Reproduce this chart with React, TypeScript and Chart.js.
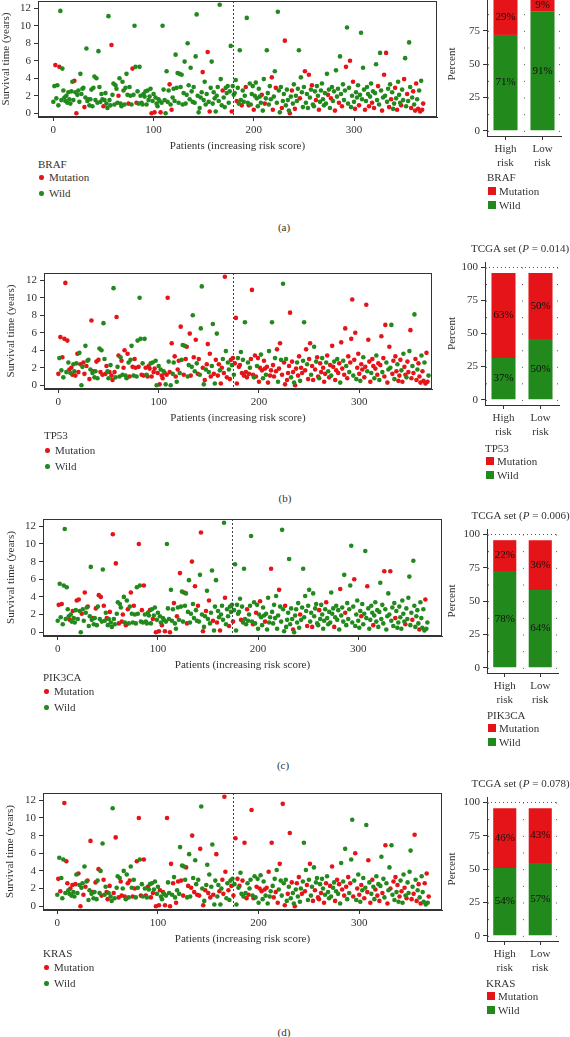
import React, { useEffect, useRef } from 'react';
import { Chart, registerables } from 'chart.js';
Chart.register(...registerables);

// ---------------- data ----------------
const GENES = ['BRAF', 'TP53', 'PIK3CA', 'KRAS'];
const PANEL_TAGS = ['(a)', '(b)', '(c)', '(d)'];
const P_VALUES: (string | null)[] = [null, '0.014', '0.006', '0.078'];
const RISK_GROUPS = [['High', 'risk'], ['Low', 'risk']];
const STATUS_LABELS = ['Mutation', 'Wild'];
const CUTOFF = [179, 174, 174, 175];
const SURV_TICKS = [0, 2, 4, 6, 8, 10, 12];
const PATIENT_TICKS = [0, 100, 200, 300];
const PERCENT_TICKS = [0, 25, 50, 75, 100];

// survival time (years) per patient, ordered by increasing risk score
const SURVIVAL = [
  1.3, 3.1, 5.5, 1.7, 3.2, 0.9, 5.3, 11.7, 1.5, 5.1,
  2.6, 1.8, 1.4, 2.0, 1.2, 2.4, 1.6, 1.1, 2.5, 3.6,
  1.5, 3.7, 2.4, 0.0, 2.1, 2.6, 1.3, 4.5, 2.2, 2.8,
  2.9, 0.7, 1.8, 7.4, 1.4, 1.6, 0.9, 1.6, 2.7, 0.8,
  2.9, 4.2, 1.5, 4.0, 1.2, 7.1, 3.0, 1.3, 2.2, 1.6,
  0.8, 1.5, 2.3, 1.1, 0.6, 11.1, 1.5, 0.9, 7.8, 2.1,
  3.4, 1.0, 3.2, 2.8, 1.2, 2.0, 4.0, 1.1, 0.8, 3.6,
  2.6, 1.0, 2.9, 4.5, 2.1, 1.1, 3.0, 2.0, 1.0, 5.1,
  2.1, 10.0, 5.3, 1.2, 2.5, 1.1, 5.3, 2.0, 1.2, 1.0,
  2.2, 1.9, 2.5, 1.0, 2.6, 1.5, 1.9, 2.8, 0.0, 1.4,
  2.2, 0.1, 1.8, 1.1, 0.8, 1.6, 1.4, 0.1, 1.2, 10.0,
  2.7, 1.5, 0.0, 4.8, 1.3, 2.6, 3.3, 1.0, 0.4, 1.8,
  2.8, 1.4, 6.7, 2.9, 4.6, 1.2, 4.5, 3.0, 4.4, 1.0,
  2.3, 5.9, 1.1, 2.1, 8.0, 3.2, 1.6, 5.2, 2.5, 1.3,
  3.0, 1.2, 6.5, 11.3, 2.0, 0.1, 0.6, 1.8, 2.4, 4.7,
  1.5, 3.6, 1.0, 2.2, 7.0, 1.3, 0.2, 2.9, 5.9, 1.1,
  2.4, 1.7, 0.2, 2.0, 3.0, 1.4, 12.4, 3.9, 0.9, 2.6,
  1.8, 0.7, 2.9, 2.3, 3.1, 1.2, 2.5, 7.7, 0.2, 3.1,
  2.1, 2.3, 3.8, 1.4, 2.9, 1.1, 7.2, 1.5, 0.9, 2.6,
  1.3, 2.0, 3.0, 10.9, 1.2, 0.9, 3.4, 1.0, 2.2, 3.1,
  0.4, 2.0, 3.5, 1.7, 0.8, 2.8, 1.9, 1.2, 2.1, 0.3,
  3.9, 1.1, 1.7, 7.2, 2.3, 1.0, 3.1, 1.6, 4.1, 0.4,
  1.9, 4.8, 2.9, 1.2, 11.6, 2.6, 0.1, 3.0, 0.6, 1.4,
  2.2, 8.3, 0.9, 2.7, 1.5, 0.3, 0.0, 1.9, 2.6, 1.1,
  3.3, 0.5, 2.0, 1.4, 2.8, 7.2, 1.7, 4.1, 2.4, 0.7,
  3.0, 4.8, 1.2, 2.2, 0.6, 4.4, 1.8, 2.7, 3.2, 1.0,
  0.8, 2.5, 1.5, 3.1, 2.0, 0.4, 1.3, 2.6, 3.4, 1.6,
  0.9, 2.3, 1.1, 4.5, 2.1, 2.7, 0.6, 1.7, 3.0, 1.4,
  2.5, 0.3, 4.9, 1.9, 2.8, 1.2, 6.5, 2.2, 0.8, 3.3,
  1.5, 2.6, 5.3, 9.8, 1.1, 2.9, 6.0, 0.7, 2.0, 3.6,
  1.3, 0.5, 2.4, 1.8, 3.2, 0.9, 2.1, 9.2, 1.6, 5.2,
  2.7, 0.4, 1.4, 3.0, 2.2, 0.8, 1.9, 3.4, 1.2, 2.5,
  0.6, 2.3, 5.6, 1.5, 3.1, 1.0, 6.9, 2.6, 0.3, 1.8,
  4.4, 2.0, 6.9, 1.3, 2.8, 0.7, 3.3, 1.6, 2.4, 0.5,
  1.1, 2.9, 1.7, 0.4, 3.6, 2.1, 1.2, 0.9, 2.7, 1.5,
  3.9, 6.3, 0.8, 2.2, 1.4, 8.1, 3.0, 0.6, 1.8, 2.5,
  1.0, 0.3, 3.4, 1.6, 0.5, 2.6, 0.2, 3.7, 0.4, 1.1,
];

// M = mutation, W = wild, one letter per patient (same order as SURVIVAL)
const BRAF_STATUS = `
WWMWWWMWWW WWWWWWWWWW WMWMWWWWWW WMWWWWWWWW WWWWWWWWWW MWWWWWWWMW WWWWWMWWWW WWWWWMWWWM
WWWMWWWWWW WWWWWWWWMW WMWWWWWMWW WWWWWWMWMW WWWWWWWWWW WWWWWWWWWW WWWWWWWWWM WWWWMWMWWW
WWWWWWWWWM WWWWWWWWMW WWWMWWWWMW WWMWWMWWWW MWWWWWWWMW WMWWWWWWMM WWMWWWWWMW WMWWWWMWMW
WMWWWWMWWW WMWWWMWWMW WWMWWMWWWW WWWWMWWMWW WMWWWMWWMW WWMWWWMWWM WMWWWMWWWW WMWWWMWWMW
MWWWMWWWMW MWMWWMWMWW WMWMWWWMWW MWWMWWWMWM WMMWMWMWMM`;
const TP53_STATUS = `
MWMWMWMMWM WMWMMWWMWM MWMWWMMWMW WMWMWMWWMW MWMWMWWMMW WMWMMWMWMW MWWMWMMWWM WMWWMWMMWW
MWWMWMWMWM MMWMWMMWWM WMWMMWMWMM WMWMWWMMWM MWMWWMWMMW WMMWWMWMWM MWWWMWMWMM WMMWWMWMWM
MWMMWMMWMW WMMWMWMMMW MMWMWMWMMW MWMMMWMMWM MMWMWMMWMM WMMWMMWMMW MMWMWMMWMM MMWMMWMMWM
MWMMWWMMWM MMWMMWMWMM WMMWMMMWMW MMWMMWMMWM MWMMWMMWMM WMMMWMMWMM MWMMWMMMWM MMWMMWMWMM
WMMWMMMWMW MWWMMWMMWM MMWMWMMWMM WMMWMWMMWM MMWMMWMMMW`;
const PIK3CA_STATUS = `
WMWWMWWWWW WWMWWMWWWM WMWWMWWMWW MWWWWMWWMW WMWMWWMWWM WWMWWMWWMW WMWWMMWWMW MWWMWWMWWW
WMWWMWMWWW WWMWWMWWMW WMWWMWWMWW WWMWWWMWWM WWMWWWMWWM WWWWMWWMWW MWWMWMWWMW WMWWWMWWWM
WWMWWWWMWW WMWWWMWWWW WWWMWWWWWM WWWWWMWWMW WWMWWWWMWW WWWMWWWWWW WMWWWWWMWW WWWWWMWWWW
WWMWWWWWWM WWWWMWWWWW WMWWWWWWMW WWWWWWMWWW WWMWWWWMWW WWWWWWMWWW WWWMWWWWWM WWWWWMWWWW
WWWWWWMWWW WWMWWWWMWW WWWWWWWMWW WWWWMWWWWW WMWWWWWMWW`;
const KRAS_STATUS = `
WMWMWWWMWM MWWMWMWWMW WMWMWWMWMW MWWMWMWWMW WMWWMWMWWM MWMWWWMWMW WMWMMWWMWW MWMWWMWMWM
WMWMWWMWMW MWWMWMWWMW WMMWWMWMWM WWMMWMWWMW MWWMWMWWMW MWWMMWMWWM WMMWWMWMWW MWMWWMWWMW
WMWWMMMMWW MWWMWMWMWM WMWWMWMWMW MWWMWMWWMW WMWMWWMWMW MWWMWMWMWM WMWWMWMWWM WMWMWWMWMW
MWWMWWMWMW WMWWMWMWWM MWMWWMWMWW WMWMWWMWMW MWWMWMWMWM WMWWMWMWMW MWMWWMWWMM WMWMWWMWMW
MWWMWWMWMW WMWWMWMWMW MWMWWMWMWW WWMWMMWMWM WMWWWMWMWM`;
const STATUS = [BRAF_STATUS, TP53_STATUS, PIK3CA_STATUS, KRAS_STATUS].map((s) => s.replace(/\s+/g, ''));

// stacked bar heights (percent axis), High risk / Low risk
const HIGH_WILD = [71.8, 31.5, 72.5, 50.8];
const HIGH_MUT = [26.5, 64.1, 23.1, 44.8];
const LOW_WILD = [89.5, 45.8, 58.3, 54.5];
const LOW_MUT = [8.8, 49.8, 37.3, 41.1];
const HIGH_MUT_PCT = ['29%', '63%', '22%', '46%'];
const HIGH_WILD_PCT = ['71%', '37%', '78%', '54%'];
const LOW_MUT_PCT = ['9%', '50%', '36%', '43%'];
const LOW_WILD_PCT = ['91%', '50%', '64%', '57%'];

// ---------------- layout & style ----------------
const FONT = '"Liberation Serif", "Times New Roman", serif';
const RED = 'rgb(229,20,24)';
const GREEN = 'rgb(34,137,28)';
const INK = '#333333';
const PAGE_W = 570;
const PAGE_H = 1037;

const SCATTER_BOX = [
  { left: 38, right: 437, top: 1, bottom: 117, xMin: -15.3, xMax: 382.8, titlePad: 0 },
  { left: 44, right: 432, top: 273, bottom: 389, xMin: -14.3, xMax: 372.5, titlePad: 5 },
  { left: 43, right: 442, top: 519, bottom: 636, xMin: -14.7, xMax: 383.6, titlePad: 5 },
  { left: 43, right: 442, top: 793, bottom: 910, xMin: -14.2, xMax: 382.2, titlePad: 4 },
];
const SCATTER_CANVAS_W = 450;
const BAR_BOX = [
  { left: 487, right: 561, top: -8, bottom: 136 },
  { left: 485, right: 559, top: 262, bottom: 405 },
  { left: 487, right: 558, top: 529, bottom: 673 },
  { left: 487, right: 558, top: 797, bottom: 941 },
];
const BAR_CANVAS_LEFT = 440;
const SCATTER_LEGEND = [
  { x: 38, ys: [164, 177, 193] },
  { x: 44, ys: [435, 450, 466] },
  { x: 43, ys: [677, 691, 707] },
  { x: 43, ys: [953, 967, 983] },
];
const BAR_LEGEND = [
  { x: 487, ys: [177, 191, 205] },
  { x: 485, ys: [448, 461, 475] },
  { x: 487, ys: [715, 728, 742] },
  { x: 486, ys: [983, 996, 1010] },
];
const TAG_POS = [
  { x: 284, y: 227 },
  { x: 285, y: 498 },
  { x: 283, y: 765 },
  { x: 284, y: 1032 },
];

const font11 = { family: FONT, size: 11 };

const framePlugin = {
  id: 'frame',
  afterDraw(chart: any) {
    const { ctx, chartArea: a } = chart;
    ctx.save();
    ctx.strokeStyle = INK;
    ctx.lineWidth = 1;
    ctx.strokeRect(Math.round(a.left) + 0.5, Math.round(a.top) + 0.5, Math.round(a.right - a.left) - 1, Math.round(a.bottom - a.top) - 1);
    ctx.restore();
  },
};

function cutoffPlugin(i: number) {
  return {
    id: 'cutoff',
    afterDatasetsDraw(chart: any) {
      const { ctx, chartArea: a, scales } = chart;
      const x = Math.round(scales.x.getPixelForValue(CUTOFF[i])) + 0.5;
      ctx.save();
      ctx.strokeStyle = '#444';
      ctx.lineWidth = 1;
      ctx.setLineDash([2, 2]);
      ctx.beginPath();
      ctx.moveTo(x, a.top);
      ctx.lineTo(x, a.bottom);
      ctx.stroke();
      ctx.restore();
    },
  };
}

function barDecorPlugin(i: number) {
  return {
    id: 'barDecor',
    beforeDatasetsDraw(chart: any) {
      const { ctx, chartArea: a, scales } = chart;
      const y100 = Math.round(scales.y.getPixelForValue(100)) + 0.5;
      const step = scales.y.getPixelForValue(0) - scales.y.getPixelForValue(12.5);
      ctx.save();
      ctx.strokeStyle = '#555';
      ctx.lineWidth = 1;
      ctx.setLineDash([1, 3]);
      ctx.beginPath();
      ctx.moveTo(a.left, y100);
      ctx.lineTo(a.right, y100);
      ctx.stroke();
      const c0 = scales.x.getPixelForValue(0);
      const c1 = scales.x.getPixelForValue(1);
      const half = (c1 - c0) / 2;
      const xs = [c0 - half + 1, (c0 + c1) / 2, c1 + half - 2];
      ctx.setLineDash([1, step - 1]);
      xs.forEach((xv) => {
        const x = Math.round(xv) + 0.5;
        ctx.beginPath();
        ctx.moveTo(x, y100);
        ctx.lineTo(x, a.bottom);
        ctx.stroke();
      });
      ctx.restore();
    },
    afterDatasetsDraw(chart: any) {
      const { ctx } = chart;
      const texts = [
        [HIGH_WILD_PCT[i], LOW_WILD_PCT[i]],
        [HIGH_MUT_PCT[i], LOW_MUT_PCT[i]],
      ];
      ctx.save();
      ctx.fillStyle = '#111';
      ctx.font = `11px ${FONT}`;
      ctx.textAlign = 'center';
      ctx.textBaseline = 'middle';
      chart.data.datasets.forEach((_: any, d: number) => {
        const meta = chart.getDatasetMeta(d);
        meta.data.forEach((el: any, k: number) => {
          ctx.fillText(texts[d][k], el.x, (el.y + el.base) / 2);
        });
      });
      const p = P_VALUES[i];
      if (p) {
        const a = chart.chartArea;
        const parts = [
          { t: 'TCGA set (', it: false },
          { t: 'P', it: true },
          { t: ` = ${p})`, it: false },
        ];
        const widths = parts.map((pt) => {
          ctx.font = `${pt.it ? 'italic ' : ''}11px ${FONT}`;
          return ctx.measureText(pt.t).width;
        });
        const total = widths.reduce((s, w) => s + w, 0);
        let x = (a.left + a.right) / 2 - 2 - total / 2;
        ctx.fillStyle = INK;
        ctx.textAlign = 'left';
        parts.forEach((pt, k) => {
          ctx.font = `${pt.it ? 'italic ' : ''}11px ${FONT}`;
          ctx.fillText(pt.t, x, a.top - 13);
          x += widths[k];
        });
      }
      ctx.restore();
    },
  };
}

function ScatterPanel({ i }: { i: number }) {
  const ref = useRef<HTMLCanvasElement>(null);
  const box = SCATTER_BOX[i];
  const padTop = 10;
  const axisH = 40;
  const h = box.bottom - box.top + padTop + axisH;
  useEffect(() => {
    const status = STATUS[i];
    const mut: { x: number; y: number }[] = [];
    const wild: { x: number; y: number }[] = [];
    SURVIVAL.forEach((v, k) => {
      (status[k] === 'M' ? mut : wild).push({ x: k, y: v });
    });
    const pointStyle = { pointRadius: 2.3, pointHoverRadius: 2.3, pointBorderWidth: 0, showLine: false };
    const chart = new Chart(ref.current as HTMLCanvasElement, {
      type: 'scatter',
      data: {
        datasets: [
          { label: STATUS_LABELS[1], data: wild, pointBackgroundColor: GREEN, backgroundColor: GREEN, ...pointStyle },
          { label: STATUS_LABELS[0], data: mut, pointBackgroundColor: RED, backgroundColor: RED, ...pointStyle },
        ],
      },
      options: {
        animation: false,
        responsive: false,
        events: [],
        layout: { padding: { top: padTop, left: 0, bottom: 0, right: SCATTER_CANVAS_W - box.right } },
        plugins: { legend: { display: false }, tooltip: { enabled: false }, title: { display: false } },
        scales: {
          x: {
            type: 'linear',
            min: box.xMin,
            max: box.xMax,
            afterBuildTicks: (s: any) => {
              s.ticks = PATIENT_TICKS.map((v) => ({ value: v }));
            },
            afterFit: (s: any) => {
              s.height = axisH;
            },
            grid: { display: true, drawOnChartArea: false, drawTicks: true, tickLength: 4, color: INK },
            border: { display: true, color: INK },
            ticks: { color: INK, font: font11, padding: 3, maxRotation: 0, autoSkip: false },
            title: { display: true, text: 'Patients (increasing risk score)', color: INK, font: font11, padding: { top: 0, bottom: 4 } },
          },
          y: {
            type: 'linear',
            min: -0.43,
            max: 12.83,
            afterBuildTicks: (s: any) => {
              s.ticks = SURV_TICKS.map((v) => ({ value: v }));
            },
            afterFit: (s: any) => {
              s.width = box.left;
            },
            grid: { display: true, drawOnChartArea: false, drawTicks: true, tickLength: 4, color: INK },
            border: { display: true, color: INK },
            ticks: { color: INK, font: font11, padding: 3, autoSkip: false },
            title: { display: true, text: 'Survival time (years)', color: INK, font: font11, padding: { top: box.titlePad, bottom: 0 } },
          },
        },
      } as any,
      plugins: [framePlugin, cutoffPlugin(i)],
    });
    return () => chart.destroy();
  }, [i]);
  return (
    <canvas
      ref={ref}
      width={SCATTER_CANVAS_W}
      height={h}
      style={{ position: 'absolute', left: 0, top: box.top - padTop, width: SCATTER_CANVAS_W, height: h }}
    />
  );
}

function BarPanel({ i }: { i: number }) {
  const ref = useRef<HTMLCanvasElement>(null);
  const box = BAR_BOX[i];
  const padTop = 25;
  const axisH = 40;
  const w = PAGE_W - BAR_CANVAS_LEFT;
  const h = box.bottom - box.top + padTop + axisH;
  useEffect(() => {
    const chart = new Chart(ref.current as HTMLCanvasElement, {
      type: 'bar',
      data: {
        labels: RISK_GROUPS,
        datasets: [
          { label: STATUS_LABELS[1], data: [HIGH_WILD[i], LOW_WILD[i]], backgroundColor: GREEN, stack: 's' },
          { label: STATUS_LABELS[0], data: [HIGH_MUT[i], LOW_MUT[i]], backgroundColor: RED, stack: 's' },
        ],
      },
      options: {
        animation: false,
        responsive: false,
        events: [],
        barPercentage: 0.65,
        categoryPercentage: 1,
        layout: { padding: { top: padTop, left: 0, bottom: 0, right: PAGE_W - box.right } },
        plugins: { legend: { display: false }, tooltip: { enabled: false }, title: { display: false } },
        scales: {
          x: {
            stacked: true,
            offset: true,
            afterFit: (s: any) => {
              s.height = axisH;
            },
            grid: { display: true, offset: false, drawOnChartArea: false, drawTicks: true, tickLength: 4, color: INK },
            border: { display: true, color: INK },
            ticks: { color: INK, font: font11, padding: 3, maxRotation: 0, autoSkip: false },
          },
          y: {
            stacked: true,
            min: -4,
            max: 104,
            afterBuildTicks: (s: any) => {
              s.ticks = PERCENT_TICKS.map((v) => ({ value: v }));
            },
            afterFit: (s: any) => {
              s.width = box.left - BAR_CANVAS_LEFT;
            },
            grid: { display: true, drawOnChartArea: false, drawTicks: true, tickLength: 4, color: INK },
            border: { display: true, color: INK },
            ticks: { color: INK, font: font11, padding: 3, autoSkip: false },
            title: { display: true, text: 'Percent', color: INK, font: font11, padding: { top: 6, bottom: 0 } },
          },
        },
      } as any,
      plugins: [barDecorPlugin(i)],
    });
    return () => chart.destroy();
  }, [i]);
  return (
    <canvas
      ref={ref}
      width={w}
      height={h}
      style={{ position: 'absolute', left: BAR_CANVAS_LEFT, top: box.top - padTop, width: w, height: h }}
    />
  );
}

const textStyle: React.CSSProperties = {
  position: 'absolute',
  fontFamily: FONT,
  fontSize: 11,
  lineHeight: '14px',
  color: INK,
  whiteSpace: 'nowrap',
};

function ScatterLegend({ i }: { i: number }) {
  const { x, ys } = SCATTER_LEGEND[i];
  const colors = [RED, GREEN];
  return (
    <>
      <div style={{ ...textStyle, left: x, top: ys[0] - 7 }}>{GENES[i]}</div>
      {STATUS_LABELS.map((lab, k) => (
        <React.Fragment key={lab}>
          <div
            style={{
              position: 'absolute',
              left: x + 1,
              top: ys[k + 1] - 2,
              width: 4.5,
              height: 4.5,
              borderRadius: '50%',
              background: colors[k],
            }}
          />
          <div style={{ ...textStyle, left: x + 11, top: ys[k + 1] - 7 }}>{lab}</div>
        </React.Fragment>
      ))}
    </>
  );
}

function BarLegend({ i }: { i: number }) {
  const { x, ys } = BAR_LEGEND[i];
  const colors = [RED, GREEN];
  return (
    <>
      <div style={{ ...textStyle, left: x, top: ys[0] - 7 }}>{GENES[i]}</div>
      {STATUS_LABELS.map((lab, k) => (
        <React.Fragment key={lab}>
          <div
            style={{
              position: 'absolute',
              left: x + 1,
              top: ys[k + 1] - 4,
              width: 8,
              height: 8,
              background: colors[k],
            }}
          />
          <div style={{ ...textStyle, left: x + 12, top: ys[k + 1] - 7 }}>{lab}</div>
        </React.Fragment>
      ))}
    </>
  );
}

export default function App() {
  return (
    <div
      style={{
        position: 'absolute',
        left: 0,
        top: 0,
        width: PAGE_W,
        height: PAGE_H,
        overflow: 'hidden',
        background: '#ffffff',
      }}
    >
      {GENES.map((g, i) => (
        <React.Fragment key={g}>
          <ScatterPanel i={i} />
          <BarPanel i={i} />
          <ScatterLegend i={i} />
          <BarLegend i={i} />
          <div
            style={{
              ...textStyle,
              left: TAG_POS[i].x - 20,
              width: 40,
              textAlign: 'center',
              top: TAG_POS[i].y - 7,
            }}
          >
            {PANEL_TAGS[i]}
          </div>
        </React.Fragment>
      ))}
    </div>
  );
}
